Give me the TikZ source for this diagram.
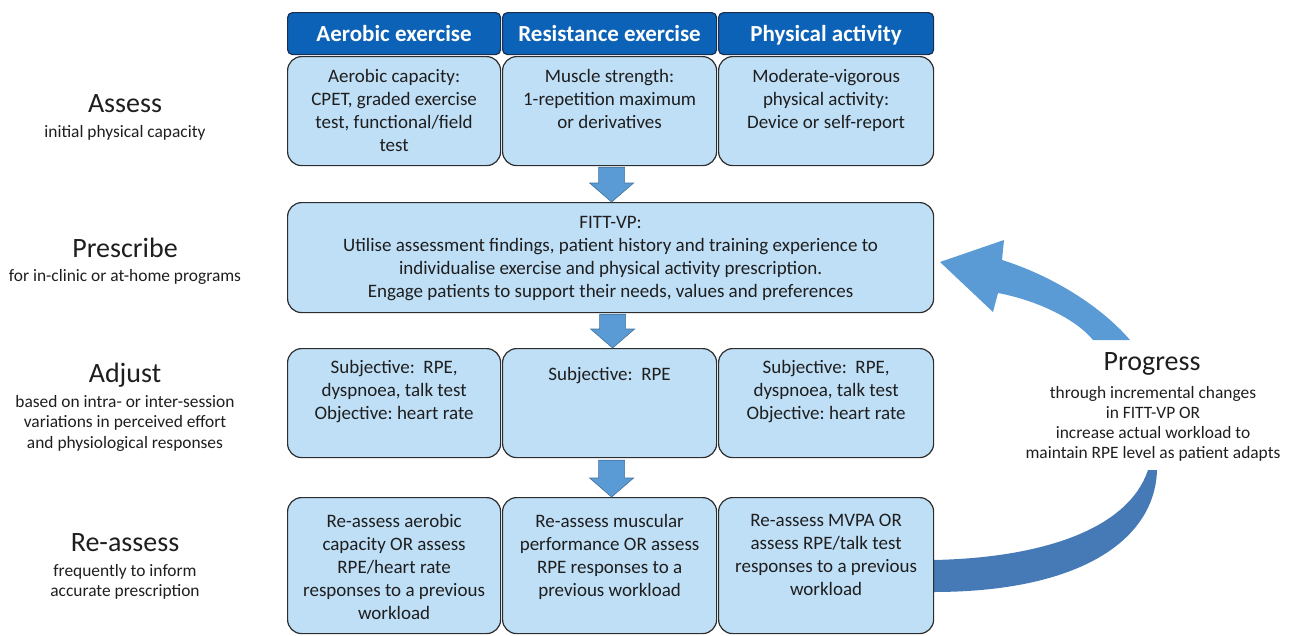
\documentclass[tikz,border=0pt]{standalone}
\usepackage{fontspec}
\setmainfont{Carlito}
\usetikzlibrary{calc}
\definecolor{hdr}{RGB}{12,98,182}
\definecolor{hdredge}{RGB}{25,45,80}
\definecolor{cell}{RGB}{191,223,247}
\definecolor{edge}{RGB}{45,45,45}
\definecolor{arr}{RGB}{91,155,213}
\definecolor{arredge}{RGB}{65,113,156}
\definecolor{band}{RGB}{70,122,182}
\definecolor{ink}{RGB}{30,30,30}
\newcommand\blockarrow[2]{%
  \path let \p1=(#1), \p2=(#2) in
    [fill=arr, draw=arredge, line width=0.6pt]
    (\x1-13pt,\y1) -- (\x1+13pt,\y1) -- (\x1+13pt,\y2+19pt) -- (\x1+22pt,\y2+19pt)
    -- (\x1,\y2) -- (\x1-22pt,\y2+19pt) -- (\x1-13pt,\y2+19pt) -- cycle;}
\begin{document}
\begin{tikzpicture}[x=1pt,y=-1pt,
  cellbox/.style={draw=edge, line width=1.2pt, fill=cell, rounded corners=14pt,
    anchor=north west, inner sep=0pt},
  hdrbox/.style={draw=hdredge, line width=1.2pt, fill=hdr, rounded corners=5pt,
    anchor=north west, inner sep=0pt, minimum height=42pt, text=white,
    text height=18pt, text depth=3pt,
    font=\fontsize{23}{26}\selectfont\bfseries},
  txt/.style={anchor=north, align=center, inner sep=0pt, text=ink,
    font=\fontsize{19}{23}\selectfont},
  ttl/.style={inner sep=0pt, text=ink, font=\fontsize{28}{32}\selectfont},
  sub/.style={anchor=north, align=center, inner sep=0pt, text=ink,
    font=\fontsize{17.4}{20.6}\selectfont}]
\useasboundingbox (0,0) rectangle (1290,635);

% lower curved band (behind the boxes)
\fill[band] (933,560) .. controls (1040,558) and (1128,530) .. (1148,470)
  -- (1157,470) .. controls (1155,540) and (1080,592) .. (933,592) -- cycle;
% upper curved arrow
\fill[arr] (940,262) -- (1004,240) -- (1002,260)
  .. controls (1050,275) and (1100,305) .. (1130,340)
  -- (1093,340) .. controls (1075,318) and (1035,300) .. (998,293)
  -- (993,312) -- cycle;

% headers
\node[hdrbox, minimum width=213pt] (h1) at (287,12) {Aerobic exercise};
\node[hdrbox, minimum width=214pt] (h2) at (502,12) {Resistance exercise};
\node[hdrbox, minimum width=215pt] (h3) at (718,12) {Physical activity};

% row 1
\node[cellbox, minimum width=213pt, minimum height=109pt] (a1) at (287,56) {};
\node[cellbox, minimum width=214pt, minimum height=109pt] (a2) at (502,56) {};
\node[cellbox, minimum width=215pt, minimum height=109pt] (a3) at (718,56) {};
\node[txt] (a1t) at ($(a1.north)+(0,13)$) {Aerobic capacity:\\CPET, graded exercise\\test, functional/field\\test};
\node[txt] (a2t) at ($(a2.north)+(0,13)$) {Muscle strength:\\1-repetition maximum\\or derivatives};
\node[txt] (a3t) at ($(a3.north)+(0,13)$) {Moderate-vigorous\\physical activity:\\Device or self-report};

% row 2
\node[cellbox, minimum width=646pt, minimum height=110pt] (p) at (287,202) {};
\node[txt] (pt) at ($(p.north)+(0,14)$) {FITT-VP:\\Utilise assessment findings, patient history and training experience to\\individualise exercise and physical activity prescription.\\Engage patients to support their needs, values and preferences};

% row 3
\node[cellbox, minimum width=213pt, minimum height=109pt] (j1) at (287,348) {};
\node[cellbox, minimum width=214pt, minimum height=109pt] (j2) at (502,348) {};
\node[cellbox, minimum width=215pt, minimum height=109pt] (j3) at (718,348) {};
\node[txt] (j1t) at ($(j1.north)+(0,12)$) {Subjective:\ \ RPE,\\dyspnoea, talk test\\Objective:\ heart rate};
\node[txt] (j2t) at ($(j2.north)+(0,19)$) {Subjective:\ \ RPE};
\node[txt] (j3t) at ($(j3.north)+(0,12)$) {Subjective:\ \ RPE,\\dyspnoea, talk test\\Objective:\ heart rate};

% row 4
\node[cellbox, minimum width=213pt, minimum height=136pt] (r1) at (287,497) {};
\node[cellbox, minimum width=214pt, minimum height=136pt] (r2) at (502,497) {};
\node[cellbox, minimum width=215pt, minimum height=136pt] (r3) at (718,497) {};
\node[txt] (r1t) at ($(r1.north)+(0,17)$) {Re-assess aerobic\\capacity OR assess\\RPE/heart rate\\responses to a previous\\workload};
\node[txt] (r2t) at ($(r2.north)+(0,17)$) {Re-assess muscular\\performance\ OR assess\\RPE responses to a\\previous workload};
\node[txt] (r3t) at ($(r3.north)+(0,17)$) {Re-assess MVPA OR\\assess RPE/talk test\\responses to a previous\\workload};

% block arrows
\blockarrow{$(a2.south)+(2,1)$}{$(p.north)+(2,0)$}
\blockarrow{$(p.south)+(2,1)$}{$(j2.north)+(2,0)$}
\blockarrow{$(j2.south)+(2,2)$}{$(r2.north)+(2,0)$}

% left labels
\node[ttl] (l1) at (125,104) {Assess};
\node[sub] (l1s) at (125,125) {initial physical capacity};
\node[ttl] (l2) at (125,248) {Prescribe};
\node[sub] (l2s) at (125,269) {for in-clinic or at-home programs};
\node[ttl] (l3) at (125,375) {Adjust};
\node[sub] (l3s) at (125,395) {based on intra- or inter-session\\variations in perceived effort\\and physiological responses};
\node[ttl] (l4) at (125,543) {Re-assess};
\node[sub] (l4s) at (125,564) {frequently to inform\\accurate prescription};

% progress label
\node[ttl] (g) at (1152,364) {Progress};
\node[sub, font=\fontsize{17.4}{20}\selectfont] (gs) at (1153,386) {through incremental changes\\in FITT-VP OR\\increase actual workload to\\maintain RPE level as patient adapts};
\end{tikzpicture}
\end{document}
